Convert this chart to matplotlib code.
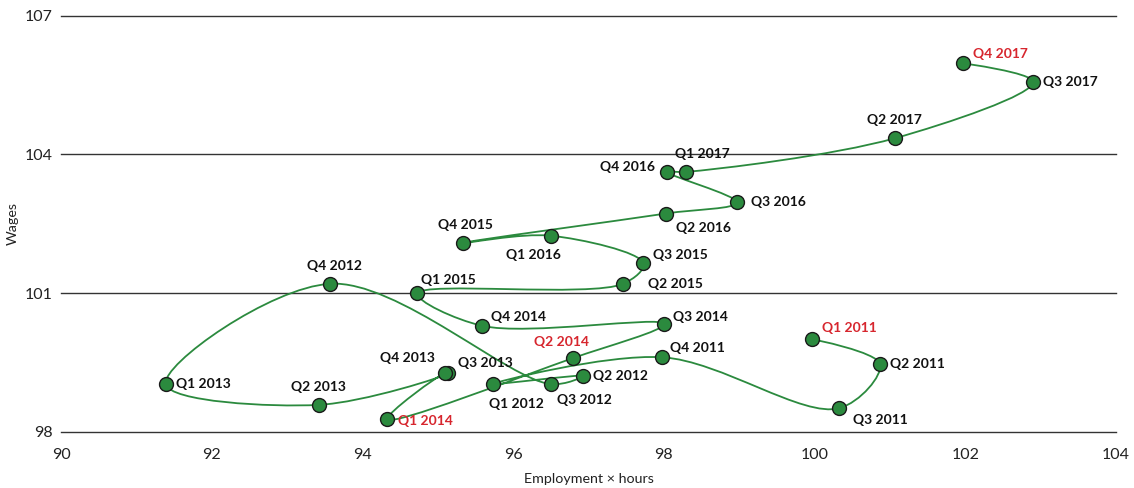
import numpy as np
import matplotlib
matplotlib.use("Agg")
import matplotlib.pyplot as plt
from matplotlib.path import Path
from matplotlib.patches import PathPatch

plt.rcParams['font.family'] = ['Lato', 'DejaVu Sans']

# points in the order the line joins them
# (the line runs Q3 2015 -> Q1 2016 -> Q4 2015 -> Q2 2016 in the source chart)
quarters = ["Q1 2011", "Q2 2011", "Q3 2011", "Q4 2011",
            "Q1 2012", "Q2 2012", "Q3 2012", "Q4 2012",
            "Q1 2013", "Q2 2013", "Q3 2013", "Q4 2013",
            "Q1 2014", "Q2 2014", "Q3 2014", "Q4 2014",
            "Q1 2015", "Q2 2015", "Q3 2015", "Q1 2016",
            "Q4 2015", "Q2 2016", "Q3 2016", "Q4 2016",
            "Q1 2017", "Q2 2017", "Q3 2017", "Q4 2017"]
employment = [99.97, 100.87, 100.33, 97.98,
              95.73, 96.93, 96.50, 93.57,
              91.39, 93.42, 95.13, 95.10,
              94.33, 96.79, 98.00, 95.59,
              94.73, 97.46, 97.73, 96.50,
              95.33, 98.03, 98.97, 98.04,
              98.29, 101.07, 102.90, 101.97]
wages = [100.00, 99.46, 98.51, 99.61,
         99.03, 99.21, 99.03, 101.20,
         99.03, 98.58, 99.26, 99.27,
         98.27, 99.59, 100.33, 100.29,
         100.99, 101.20, 101.64, 102.24,
         102.08, 102.72, 102.96, 103.62,
         103.62, 104.35, 105.57, 105.97]
highlight = ["Q1 2011", "Q1 2014", "Q2 2014", "Q4 2017"]

# label offsets in pixels (dx, dy) and horizontal alignment
label_pos = {
    "Q1 2011": (10, 11, 'left'), "Q2 2011": (10, 0, 'left'),
    "Q3 2011": (14, -12, 'left'), "Q4 2011": (8, 9, 'left'),
    "Q1 2012": (-4, -20, 'left'), "Q2 2012": (10, 0, 'left'),
    "Q3 2012": (6, -16, 'left'), "Q4 2012": (4, 18, 'center'),
    "Q1 2013": (10, 0, 'left'), "Q2 2013": (0, 18, 'center'),
    "Q3 2013": (10, 10, 'left'), "Q4 2013": (-10, 15, 'right'),
    "Q1 2014": (11, -2, 'left'), "Q2 2014": (-11, 16, 'center'),
    "Q3 2014": (9, 7, 'left'), "Q4 2014": (9, 9, 'left'),
    "Q1 2015": (4, 13, 'left'), "Q2 2015": (25, 0, 'left'),
    "Q3 2015": (10, 8, 'left'), "Q4 2015": (3, 18, 'center'),
    "Q1 2016": (-17, -19, 'center'), "Q2 2016": (10, -14, 'left'),
    "Q3 2016": (14, 0, 'left'), "Q4 2016": (-12, 5, 'right'),
    "Q1 2017": (17, 18, 'center'), "Q2 2017": (-1, 18, 'center'),
    "Q3 2017": (10, 0, 'left'), "Q4 2017": (10, 9, 'left'),
}

green = '#2b8a3e'
red = '#d7262e'

fig = plt.figure(figsize=(11.34, 4.88), dpi=100)
ax = fig.add_axes([0.0538, 0.1154, 0.9303, 0.8525])
ax.set_xlim(90, 104)
ax.set_ylim(98, 107)


def catmull_rom(pts, alpha=0.5, eps=1e-9):
    # centripetal Catmull-Rom as cubic beziers (same maths as d3.curveCatmullRom)
    n = len(pts)
    verts, codes = [pts[0]], [Path.MOVETO]
    for i in range(n - 1):
        p1, p2 = pts[i], pts[i + 1]
        l12 = np.hypot(*(p2 - p1))
        c1, c2 = p1.copy(), p2.copy()
        if i > 0:
            p0 = pts[i - 1]
            l01 = np.hypot(*(p1 - p0))
            if l01 > eps:
                a = 2 * l01 ** (2 * alpha) + 3 * l01 ** alpha * l12 ** alpha + l12 ** (2 * alpha)
                nn = 3 * l01 ** alpha * (l01 ** alpha + l12 ** alpha)
                c1 = (p1 * a - p0 * l12 ** (2 * alpha) + p2 * l01 ** (2 * alpha)) / nn
        if i < n - 2:
            p3 = pts[i + 2]
            l23 = np.hypot(*(p3 - p2))
            if l23 > eps:
                b = 2 * l23 ** (2 * alpha) + 3 * l23 ** alpha * l12 ** alpha + l12 ** (2 * alpha)
                m = 3 * l23 ** alpha * (l23 ** alpha + l12 ** alpha)
                c2 = (p2 * b + p1 * l23 ** (2 * alpha) - p3 * l12 ** (2 * alpha)) / m
        verts += [c1, c2, p2]
        codes += [Path.CURVE4] * 3
    return np.array(verts), codes


# build the curve in pixel space, then map back to data
px = ax.transData.transform(np.column_stack([employment, wages]))
verts, codes = catmull_rom(px)
curve = Path(ax.transData.inverted().transform(verts), codes)
ax.add_patch(PathPatch(curve, facecolor='none', edgecolor=green, lw=1.3, zorder=3))

ax.plot(employment, wages, 'o', ms=10, mfc=green, mec='#1a1a1a', mew=1,
        zorder=4, clip_on=False)

for q, x, y in zip(quarters, employment, wages):
    dx, dy, ha = label_pos[q]
    ax.annotate(q, (x, y), xytext=(dx * 0.72, dy * 0.72),
                textcoords='offset points', ha=ha, va='center',
                fontsize=10, fontweight='bold',
                color=red if q in highlight else '#111111', zorder=5)

ax.set_yticks([98, 101, 104, 107])
ax.set_xticks(np.arange(90, 105, 2))
ax.grid(axis='y', color='#333333', lw=1)
ax.grid(axis='x', visible=False)
for gl in ax.get_ygridlines():
    gl.set_clip_on(False)
for s in ax.spines.values():
    s.set_visible(False)
ax.tick_params(axis='both', length=0, labelsize=11.5, colors='#222222')
ax.tick_params(axis='x', pad=12)
ax.tick_params(axis='y', pad=6)
ax.set_xlabel('Employment × hours', fontsize=10.3, color='#222222', labelpad=8)
ax.set_ylabel('Wages', fontsize=10.3, color='#222222')
ax.yaxis.set_label_coords(-0.04, 0.5)

fig.savefig('out.png', dpi=100)
